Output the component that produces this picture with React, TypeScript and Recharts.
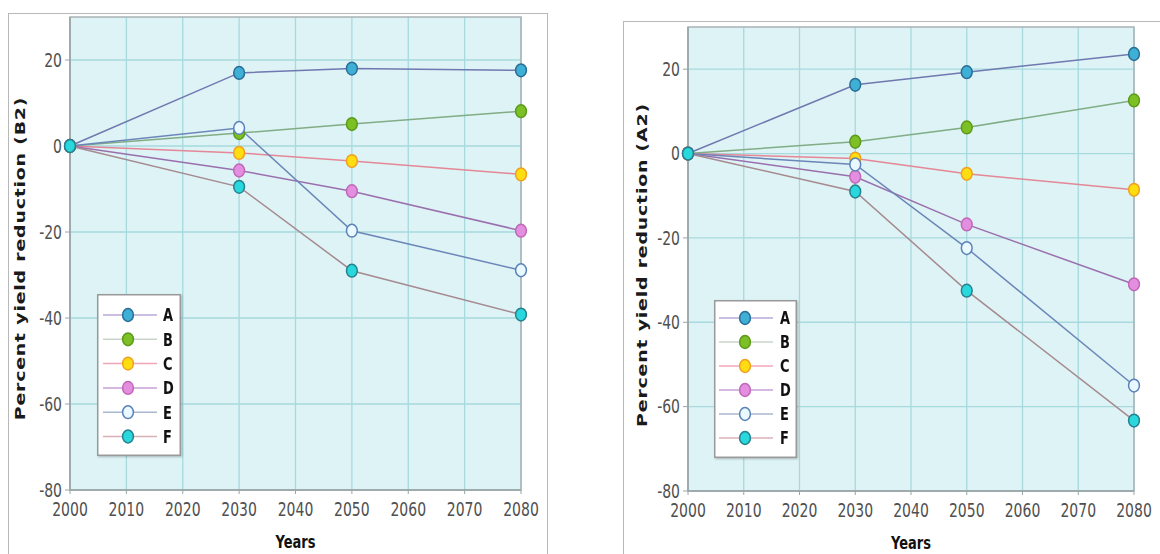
import React from 'react';
import { LineChart, Line, XAxis, YAxis, CartesianGrid, Legend, ReferenceArea } from 'recharts';

const years = [2000, 2030, 2050, 2080];
const seriesNames = ['A', 'B', 'C', 'D', 'E', 'F'];

// Scenario B2
const b2A = [0, 17, 18, 17.6];
const b2B = [0, 3, 5.1, 8.1];
const b2C = [0, -1.6, -3.5, -6.6];
const b2D = [0, -5.7, -10.5, -19.7];
const b2E = [0, 4.2, -19.7, -28.9];
const b2F = [0, -9.5, -29, -39.2];

// Scenario A2
const a2A = [0, 16.3, 19.3, 23.6];
const a2B = [0, 2.8, 6.2, 12.6];
const a2C = [0, -1.2, -4.8, -8.6];
const a2D = [0, -5.5, -16.8, -31];
const a2E = [0, -2.6, -22.4, -55];
const a2F = [0, -9, -32.5, -63.3];

const xTicks = [2000, 2010, 2020, 2030, 2040, 2050, 2060, 2070, 2080];
const yTicks = [-80, -60, -40, -20, 0, 20];

const styles: Record<string, { line: string; legendLine: string; fill: string; stroke: string }> = {
  A: { line: '#6f78b0', legendLine: '#b8a8d8', fill: '#3eb0d6', stroke: '#2a6d96' },
  B: { line: '#80ac86', legendLine: '#c8d6c8', fill: '#7dc025', stroke: '#5c9a1a' },
  C: { line: '#e48797', legendLine: '#f0a8b8', fill: '#ffdd10', stroke: '#f0a020' },
  D: { line: '#9a6fae', legendLine: '#c8a0d8', fill: '#e48ee0', stroke: '#c068b8' },
  E: { line: '#6b86b8', legendLine: '#a8b8d0', fill: '#eaf8ff', stroke: '#5a82b8' },
  F: { line: '#a58a90', legendLine: '#d8b0b8', fill: '#28d8dc', stroke: '#26808e' },
};

const buildRows = (cols: number[][]) =>
  years.map((year, i) => {
    const row: Record<string, number> = { year };
    seriesNames.forEach((n, k) => {
      row[n] = cols[k][i];
    });
    return row;
  });

const b2Data = buildRows([b2A, b2B, b2C, b2D, b2E, b2F]);
const a2Data = buildRows([a2A, a2B, a2C, a2D, a2E, a2F]);

const FONT = '"DejaVu Sans", Verdana, sans-serif';
const SY = 1.35;

const XTick = (props: any) => {
  const { x, y, payload } = props;
  return (
    <text
      transform={`translate(${x},${y}) scale(1,${SY})`}
      textAnchor="middle"
      dy="0.72em"
      fontFamily={FONT}
      fontSize={14}
      fill="#505050"
    >
      {payload.value}
    </text>
  );
};

const YTick = (props: any) => {
  const { x, y, payload } = props;
  return (
    <text
      transform={`translate(${x},${y}) scale(1,${SY})`}
      textAnchor="end"
      dy="0.36em"
      fontFamily={FONT}
      fontSize={14}
      fill="#505050"
    >
      {payload.value}
    </text>
  );
};

const makeDot = (name: string) => (props: any) => {
  const { cx, cy, key } = props;
  const s = styles[name];
  if (cx == null || cy == null) return <g key={key} />;
  return <ellipse key={key} cx={cx} cy={cy} rx={5.4} ry={6.4} fill={s.fill} stroke={s.stroke} strokeWidth={1.5} />;
};

const makeLegend = (firstY: number, step: number, w: number, h: number, lineX1: number, lineX2: number, markX: number, labelX: number) => () => (
  <svg width={w} height={h} style={{ display: 'block', filter: 'drop-shadow(1px 1px 1px rgba(0,0,0,0.25))' }}>
    <rect x={0.75} y={0.75} width={w - 1.5} height={h - 1.5} fill="#ffffff" stroke="#9a9a9a" strokeWidth={1.5} />
    {seriesNames.map((n, i) => {
      const cy = firstY + i * step;
      const s = styles[n];
      return (
        <g key={n}>
          <line x1={lineX1} x2={lineX2} y1={cy} y2={cy} stroke={s.legendLine} strokeWidth={1.5} />
          <ellipse cx={markX} cy={cy} rx={5.4} ry={6.4} fill={s.fill} stroke={s.stroke} strokeWidth={1.5} />
          <text
            transform={`translate(${labelX},${cy}) scale(1,${SY})`}
            dy="0.36em"
            fontFamily={FONT}
            fontSize={13}
            fontWeight="bold"
            fill="#111"
          >
            {n}
          </text>
        </g>
      );
    })}
  </svg>
);

type PanelProps = {
  data: Record<string, number>[];
  width: number;
  height: number;
  margin: { top: number; right: number; left: number; bottom: number };
  yAxisWidth: number;
  xAxisHeight: number;
  yLabel: string;
  yLabelX: number;
  yLabelDy: number;
  legendBox: { left: number; top: number; width: number; height: number };
  legend: () => React.ReactElement;
};

const Panel = (p: PanelProps) => (
  <LineChart width={p.width} height={p.height} data={p.data} margin={p.margin}>
    <CartesianGrid
      stroke="#a6dade"
      strokeWidth={1.3}
      fill="#def3f5"
      fillOpacity={1}
      horizontalValues={yTicks}
      verticalValues={xTicks}
    />
    <ReferenceArea x1={2000} x2={2080} y1={-80} y2={30} fill="none" stroke="#a9b3b5" strokeWidth={1.5} ifOverflow="visible" />
    <XAxis
      dataKey="year"
      type="number"
      domain={[2000, 2080]}
      ticks={xTicks}
      interval={0}
      height={p.xAxisHeight}
      tick={<XTick />}
      tickSize={4}
      tickMargin={8}
      stroke="#9aa4a6"
      tickLine={{ stroke: '#9aa4a6' }}
      axisLine={{ stroke: '#9aa4a6', strokeWidth: 1.5 }}
      label={(lp: any) => {
        const vb = lp.viewBox;
        return (
          <text
            transform={`translate(${vb.x + vb.width / 2},${vb.y + 58}) scale(1,${SY})`}
            textAnchor="middle"
            fontFamily={FONT}
            fontSize={13}
            fontWeight="bold"
            fill="#111"
          >
            Years
          </text>
        );
      }}
    />
    <YAxis
      type="number"
      domain={[-80, 30]}
      ticks={yTicks}
      interval={0}
      width={p.yAxisWidth}
      tick={<YTick />}
      tickSize={5}
      tickMargin={3}
      stroke="#9aa4a6"
      tickLine={{ stroke: '#9aa4a6' }}
      axisLine={{ stroke: '#9aa4a6', strokeWidth: 1.5 }}
      label={(lp: any) => {
        const vb = lp.viewBox;
        return (
          <text
            transform={`translate(${p.yLabelX},${vb.y + vb.height / 2 + p.yLabelDy}) scale(1,${SY}) rotate(-90)`}
            textAnchor="middle"
            dy="0.36em"
            fontFamily={FONT}
            fontSize={14}
            fontWeight="bold"
            letterSpacing={0.6}
            fill="#1a1a1a"
          >
            {p.yLabel}
          </text>
        );
      }}
    />
    <Legend
      layout="vertical"
      align="center"
      verticalAlign="middle"
      content={p.legend}
      wrapperStyle={{ position: 'absolute', ...p.legendBox }}
    />
    {seriesNames.map((n) => (
      <Line
        key={n}
        type="linear"
        dataKey={n}
        name={n}
        stroke={styles[n].line}
        strokeWidth={1.5}
        dot={makeDot(n)}
        activeDot={false}
        isAnimationActive={false}
      />
    ))}
  </LineChart>
);

export default function App() {
  return (
    <div style={{ position: 'absolute', left: 0, top: 0, width: 1160, height: 554, overflow: 'hidden', background: '#fff' }}>
      <div style={{ position: 'absolute', left: 8, top: 13, width: 538, height: 560, border: '1.5px solid #b8b8b8' }} />
      <div style={{ position: 'absolute', left: 623, top: 21, width: 600, height: 560, border: '1.5px solid #b8b8b8' }} />
      <div style={{ position: 'absolute', left: 0, top: 0 }}>
        <Panel
          data={b2Data}
          width={548}
          height={554}
          margin={{ top: 17, right: 27, left: 0, bottom: 0 }}
          yAxisWidth={70}
          xAxisHeight={64}
          yLabel="Percent yield reduction (B2)"
          yLabelX={20}
          yLabelDy={5}
          legendBox={{ left: 97, top: 294, width: 84, height: 162 }}
          legend={makeLegend(21, 24.3, 84, 162, 6, 60, 31, 66)}
        />
      </div>
      <div style={{ position: 'absolute', left: 620, top: 0 }}>
        <Panel
          data={a2Data}
          width={540}
          height={554}
          margin={{ top: 27, right: 26, left: 0, bottom: 0 }}
          yAxisWidth={68}
          xAxisHeight={63}
          yLabel="Percent yield reduction (A2)"
          yLabelX={22}
          yLabelDy={6}
          legendBox={{ left: 94, top: 300, width: 83, height: 158 }}
          legend={makeLegend(18, 24, 83, 158, 5, 59, 31, 66)}
        />
      </div>
    </div>
  );
}
